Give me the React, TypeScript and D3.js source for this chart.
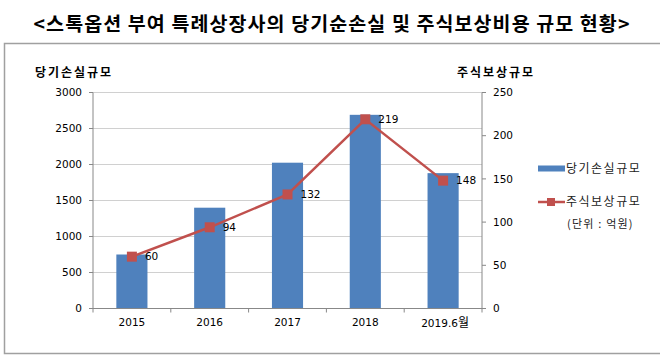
import React from "react";
import * as d3 from "d3";

const categories = ["2015", "2016", "2017", "2018", "2019.6월"];
const netLoss = [750, 1400, 2025, 2690, 1880];
const stockComp = [60, 94, 132, 219, 148];
const leftTicks = [0, 500, 1000, 1500, 2000, 2500, 3000];
const rightTicks = [0, 50, 100, 150, 200, 250];

const W = 660;
const H = 358;
const plotL = 93;
const plotR = 482;
const plotT = 92.5;
const plotB = 308.5;
const barColor = "#4F81BD";
const lineColor = "#C0504D";
const font = "'Noto Sans CJK KR', 'Noto Sans', sans-serif";
const numFont = "'DejaVu Sans', Verdana, sans-serif";

export default function App() {
  const x = d3.scaleBand<string>().domain(categories).range([plotL, plotR]).paddingInner(0).paddingOuter(0);
  const yL = d3.scaleLinear().domain([0, 3000]).range([plotB, plotT]);
  const yR = d3.scaleLinear().domain([0, 250]).range([plotB, plotT]);
  const bw = x.bandwidth() * 0.4;
  const cx = (c: string) => (x(c) as number) + x.bandwidth() / 2;
  const line = d3
    .line<number>()
    .x((_, i) => cx(categories[i]))
    .y((d) => yR(d));
  const boundaries = categories.map((c) => x(c) as number).concat([plotR]);

  return (
    <svg width={W} height={H} style={{ position: "absolute", left: 0, top: 0, background: "#fff" }}>
      <rect x={0} y={0} width={W} height={H} fill="#fff" />
      <text x={332} y={31} textAnchor="middle" fontFamily={font} fontWeight="bold" fontSize={19.5} letterSpacing={1.1} fill="#000">
        {"<스톡옵션 부여 특례상장사의 당기순손실 및 주식보상비용 규모 현황>"}
      </text>
      <path d={`M${W},43.5 H4.5 V353.5 H${W}`} fill="none" stroke="#A0A0A0" strokeWidth={1.5} />

      {/* gridlines */}
      {leftTicks.slice(1).map((t) => (
        <line key={"g" + t} x1={plotL} x2={plotR} y1={yL(t)} y2={yL(t)} stroke="#D0D0D0" strokeWidth={1} />
      ))}

      {/* bars */}
      {categories.map((c, i) => (
        <rect key={c} x={cx(c) - bw / 2} y={yL(netLoss[i])} width={bw} height={plotB - yL(netLoss[i])} fill={barColor} />
      ))}

      {/* axes */}
      <line x1={plotL} x2={plotL} y1={plotT} y2={plotB} stroke="#888" />
      <line x1={plotR} x2={plotR} y1={plotT} y2={plotB} stroke="#888" />
      <line x1={plotL - 4} x2={plotR + 4} y1={plotB} y2={plotB} stroke="#888" />
      {leftTicks.map((t) => (
        <g key={"l" + t}>
          <line x1={plotL - 4} x2={plotL} y1={yL(t)} y2={yL(t)} stroke="#888" />
          <text x={82} y={yL(t)} dy="0.35em" textAnchor="end" fontFamily={numFont} fontSize={10.5} fill="#000">
            {t}
          </text>
        </g>
      ))}
      {rightTicks.map((t) => (
        <g key={"r" + t}>
          <line x1={plotR} x2={plotR + 4} y1={yR(t)} y2={yR(t)} stroke="#888" />
          <text x={493} y={yR(t)} dy="0.35em" textAnchor="start" fontFamily={numFont} fontSize={10.5} fill="#000">
            {t}
          </text>
        </g>
      ))}
      {boundaries.map((b, i) => (
        <line key={"b" + i} x1={b} x2={b} y1={plotB} y2={plotB + 4} stroke="#888" />
      ))}
      {categories.map((c, i) => (
        <text
          key={"x" + c}
          x={i === 4 ? cx(c) + 2 : cx(c)}
          y={i === 4 ? 327 : 326}
          textAnchor="middle"
          fontFamily={numFont}
          fontSize={10.5}
          fill="#000"
        >
          {c === "2019.6월" ? (
            <>
              <tspan>2019.6</tspan>
              <tspan fontFamily={font} fontSize={12}>월</tspan>
            </>
          ) : (
            c
          )}
        </text>
      ))}

      {/* axis titles */}
      <text x={74} y={77} textAnchor="middle" fontFamily={font} fontWeight="bold" fontSize={12} letterSpacing={2} fill="#000">
        당기손실규모
      </text>
      <text x={496} y={77} textAnchor="middle" fontFamily={font} fontWeight="bold" fontSize={12} letterSpacing={2} fill="#000">
        주식보상규모
      </text>

      {/* line */}
      <path d={line(stockComp) || ""} fill="none" stroke={lineColor} strokeWidth={2.5} />
      {stockComp.map((v, i) => (
        <g key={"m" + i}>
          <rect x={cx(categories[i]) - 5} y={yR(v) - 5} width={10} height={10} fill={lineColor} />
          <text x={cx(categories[i]) + 13} y={yR(v)} dy="0.35em" fontFamily={numFont} fontSize={10.5} fill="#000">
            {v}
          </text>
        </g>
      ))}

      {/* legend */}
      <rect x={538} y={165.5} width={27} height={6} fill={barColor} />
      <text x={566} y={169} dy="0.35em" fontFamily={font} fontSize={12} letterSpacing={1.5} fill="#222">
        당기손실규모
      </text>
      <line x1={538} x2={565} y1={202} y2={202} stroke={lineColor} strokeWidth={2.5} />
      <rect x={547} y={198} width={8} height={8} fill={lineColor} />
      <text x={566} y={202} dy="0.35em" fontFamily={font} fontSize={12} letterSpacing={1.5} fill="#222">
        주식보상규모
      </text>
      <text x={567} y={224} dy="0.35em" fontFamily={font} fontSize={11} letterSpacing={1.2} fill="#222">
        (단위 : 억원)
      </text>
    </svg>
  );
}
